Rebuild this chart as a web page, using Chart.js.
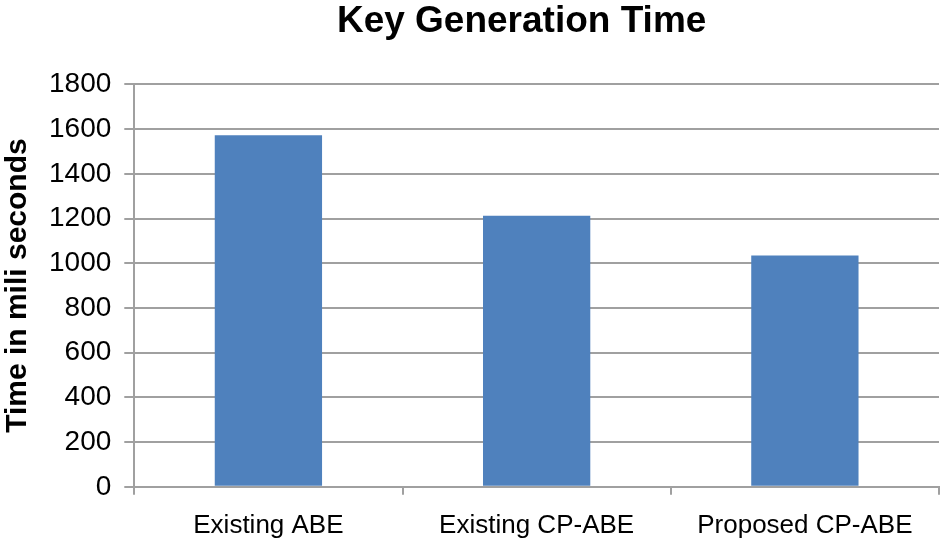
<!DOCTYPE html>
<html>
<head>
<meta charset="utf-8">
<script src="https://cdn.jsdelivr.net/npm/chart.js@4"></script>
<style>
  html, body { margin: 0; padding: 0; background: #fff; }
  #wrap { width: 950px; height: 542px; }
</style>
</head>
<body>
<div id="wrap"><canvas id="keyGenChart" width="950" height="542"></canvas></div>
<script>
  const categories = ["Existing ABE", "Existing CP-ABE", "Proposed CP-ABE"];
  const keyGenTimes = [1573, 1213, 1035];
  const yTicks = [0, 200, 400, 600, 800, 1000, 1200, 1400, 1600, 1800];

  // title sits over the plot area, not the whole canvas
  const shiftTitle = {
    id: "shiftTitle",
    afterLayout(chart) {
      const t = chart.titleBlock;
      if (!t) return;
      t.left = chart.chartArea.left - 30;
      t.right = chart.chartArea.right;
      t.width = t.right - t.left;
    },
  };

  const ctx = document.getElementById("keyGenChart").getContext("2d");
  new Chart(ctx, {
    type: "bar",
    data: {
      labels: categories,
      datasets: [
        {
          label: "Key Generation Time",
          data: keyGenTimes,
          backgroundColor: "#4f81bd",
          borderWidth: 0,
          barPercentage: 0.8,
          categoryPercentage: 0.5,
        },
      ],
    },
    plugins: [shiftTitle],
    options: {
      responsive: false,
      animation: false,
      layout: { padding: { left: 0, right: 11, top: 0, bottom: -14 } },
      plugins: {
        legend: { display: false },
        tooltip: { enabled: false },
        title: {
          display: true,
          text: "Key Generation Time",
          color: "#000",
          font: { family: "Liberation Sans", size: 37, weight: "bold" },
          padding: { top: 0, bottom: 40 },
        },
      },
      scales: {
        x: {
          border: { display: true, color: "#a0a0a0", width: 2 },
          grid: { display: true, drawOnChartArea: false, color: "#a0a0a0", lineWidth: 2, tickLength: 8, offset: true },
          ticks: { color: "#000", font: { family: "Liberation Sans", size: 26 }, padding: 15, maxRotation: 0 },
        },
        y: {
          min: 0,
          max: 1800,
          afterBuildTicks: (axis) => {
            axis.ticks = yTicks.map((v) => ({ value: v }));
          },
          border: { display: true, color: "#a0a0a0", width: 2 },
          grid: { color: "#a0a0a0", lineWidth: 2, tickLength: 10 },
          ticks: {
            color: "#000",
            font: { family: "Liberation Sans", size: 28 },
            padding: 13,
            callback: (v) => String(v),
          },
          title: {
            display: true,
            text: "Time in mili seconds",
            color: "#000",
            font: { family: "Liberation Sans", size: 30, weight: "bold" },
            padding: { top: 0, bottom: 0 },
          },
        },
      },
    },
  });
</script>
</body>
</html>
